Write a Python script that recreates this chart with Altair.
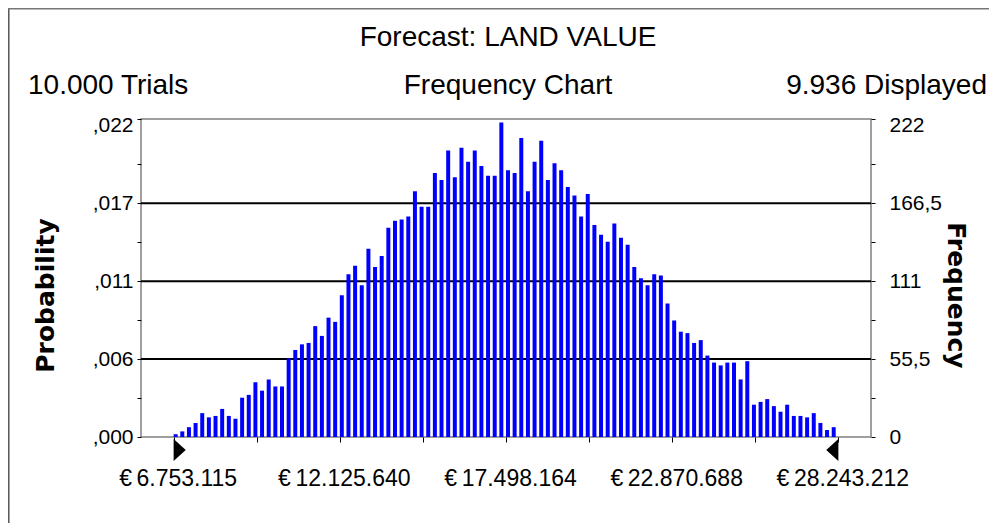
import altair as alt
import pandas as pd

# ---- data ----
freq = [2, 4, 7, 10, 17, 14, 15, 20, 15, 13,
        28, 30, 39, 33, 41, 36, 36, 56, 62, 66,
        67, 79, 72, 85, 82, 101, 116, 122, 108, 134,
        121, 129, 149, 154, 155, 157, 175, 164, 164, 188,
        183, 204, 185, 206, 196, 204, 193, 186, 186, 224,
        190, 188, 213, 175, 196, 211, 183, 195, 190, 178,
        172, 157, 173, 151, 144, 139, 152, 142, 137, 121,
        113, 108, 116, 115, 95, 83, 75, 74, 67, 69,
        58, 53, 51, 53, 53, 41, 54, 23, 25, 27,
        22, 18, 23, 15, 15, 14, 17, 10, 5, 7]
x_min = 6753115
x_max = 28243212
x_labels = ["€\u20096.753.115", "€\u200912.125.640", "€\u200917.498.164",
            "€\u200922.870.688", "€\u200928.243.212"]
y_label_max = 222
prob_labels = [",000", ",006", ",011", ",017", ",022"]
freq_labels = ["0", "55,5", "111", "166,5", "222"]
grid_values = [55.5, 111, 166.5]
title_text = "Forecast: LAND VALUE"
left_text = "10.000 Trials"
mid_text = "Frequency Chart"
right_text = "9.936 Displayed"

# ---- derived tables ----
n = len(freq)
bw = (x_max - x_min) / n
bars_df = pd.DataFrame({
    "lo": [x_min + i * bw for i in range(n)],
    "hi": [x_min + i * bw + 0.6 * bw for i in range(n)],
    "freq": freq,
    "base": [0] * n,
})
major_x = [x_min + k * (x_max - x_min) / 4 for k in range(5)]
x_ticks = [x_min + k * (x_max - x_min) / 8 for k in range(9)]

y_top = 226.5  # top of the plot frame, a little above the last label
step = y_label_max / 8
y_ticks = [k * step for k in range(8)] + [y_top]
major_y = [k * y_label_max / 4 for k in range(4)] + [y_top]


def label_expr(values, labels, tol):
    expr = "''"
    for v, l in reversed(list(zip(values, labels))):
        expr = f"abs(datum.value - {v}) < {tol} ? '{l}' : ({expr})"
    return expr


pad = 0.04912 * (x_max - x_min)
xscale = alt.Scale(domain=[x_min - pad, x_max + pad], nice=False, zero=False)
yscale = alt.Scale(domain=[0, y_top], nice=False, zero=True)

FONT = "Liberation Sans"
TFONT = "DejaVu Sans"

x_axis = alt.Axis(values=x_ticks, labelExpr=label_expr(major_x, x_labels, 10),
                  tickSize=5, tickColor="black", tickWidth=1, labelPadding=25,
                  labelFont=FONT, labelFontSize=23, labelColor="black", labelOffset=4,
                  domain=False, grid=False, title="", labelOverlap=False)

top_off = {"condition": {"test": f"datum.value >= {y_top - 0.1}", "value": 6}, "value": 0}

left_axis = alt.Axis(orient="left", values=y_ticks,
                     labelExpr=label_expr(major_y, prob_labels, 0.01),
                     tickSize=4, tickColor="black", labelPadding=4,
                     labelFont=FONT, labelFontSize=21, labelColor="black",
                     labelOffset=top_off,
                     domain=False, grid=False, labelOverlap=False,
                     title="Probability", titleFont=TFONT, titleFontWeight="bold",
                     titleFontSize=25, titleColor="black", titleAngle=270,
                     titleX=-96, titleY=176, titleAlign="center", titleBaseline="middle")

right_axis = alt.Axis(orient="right", values=y_ticks,
                      labelExpr=label_expr(major_y, freq_labels, 0.01),
                      tickSize=4, tickColor="black", labelPadding=14,
                      labelFont=FONT, labelFontSize=21, labelColor="black",
                      labelOffset=top_off,
                      domain=False, grid=False, labelOverlap=False,
                      title="Frequency", titleFont=TFONT, titleFontWeight="bold",
                      titleFontSize=25, titleColor="black", titleAngle=90,
                      titleX=84, titleY=176, titleAlign="center", titleBaseline="middle")

grid = alt.Chart(pd.DataFrame({"g": grid_values})).mark_rule(
    color="black", strokeWidth=2).encode(
    y=alt.Y("g:Q", scale=yscale, axis=right_axis))

bars = alt.Chart(bars_df).mark_rect(color="#0000ff").encode(
    x=alt.X("lo:Q", scale=xscale, axis=x_axis),
    x2="hi:Q",
    y=alt.Y("freq:Q", scale=yscale, axis=left_axis),
    y2="base:Q",
)

tri_left = alt.Chart(pd.DataFrame({"m": [x_min]})).mark_point(
    shape="M0,-1L1.1,0L0,1Z", filled=True, color="black", opacity=1, size=484
).encode(x=alt.X("m:Q", scale=xscale), y=alt.value(331))

tri_right = alt.Chart(pd.DataFrame({"m": [x_max]})).mark_point(
    shape="M0,-1L-1.1,0L0,1Z", filled=True, color="black", opacity=1, size=484
).encode(x=alt.X("m:Q", scale=xscale), y=alt.value(331))


def header(txt, x, y, align):
    return alt.Chart(pd.DataFrame({"t": [txt]})).mark_text(
        align=align, baseline="alphabetic", font=FONT, fontSize=28, color="black"
    ).encode(text="t:N", x=alt.value(x), y=alt.value(y))


h_title = header(title_text, 367, -73, "center")
h_left = header(left_text, -113, -25, "left")
h_mid = header(mid_text, 367, -25, "center")
h_right = header(right_text, 846, -25, "right")

frame_left = alt.Chart(pd.DataFrame({"a": [0]})).mark_rule(
    color="#555555", strokeWidth=1.5).encode(
    x=alt.value(-132.2), y=alt.value(-110.5), y2=alt.value(404))
frame_top = alt.Chart(pd.DataFrame({"a": [0]})).mark_rule(
    color="#777777", strokeWidth=1.5).encode(
    x=alt.value(-133), x2=alt.value(848), y=alt.value(-110.2))

chart = alt.layer(
    grid, bars, tri_left, tri_right, h_title, h_left, h_mid, h_right,
    frame_left, frame_top
).resolve_scale(y="independent").properties(
    width=730, height=318,
    autosize=alt.AutoSizeParams(type="none"),
    padding={"left": 133, "top": 111, "right": 118, "bottom": 86},
    background="white",
).configure_view(stroke="#808080", strokeWidth=1.5)

chart.save("out.html", embed_options={"renderer": "svg", "actions": False})
